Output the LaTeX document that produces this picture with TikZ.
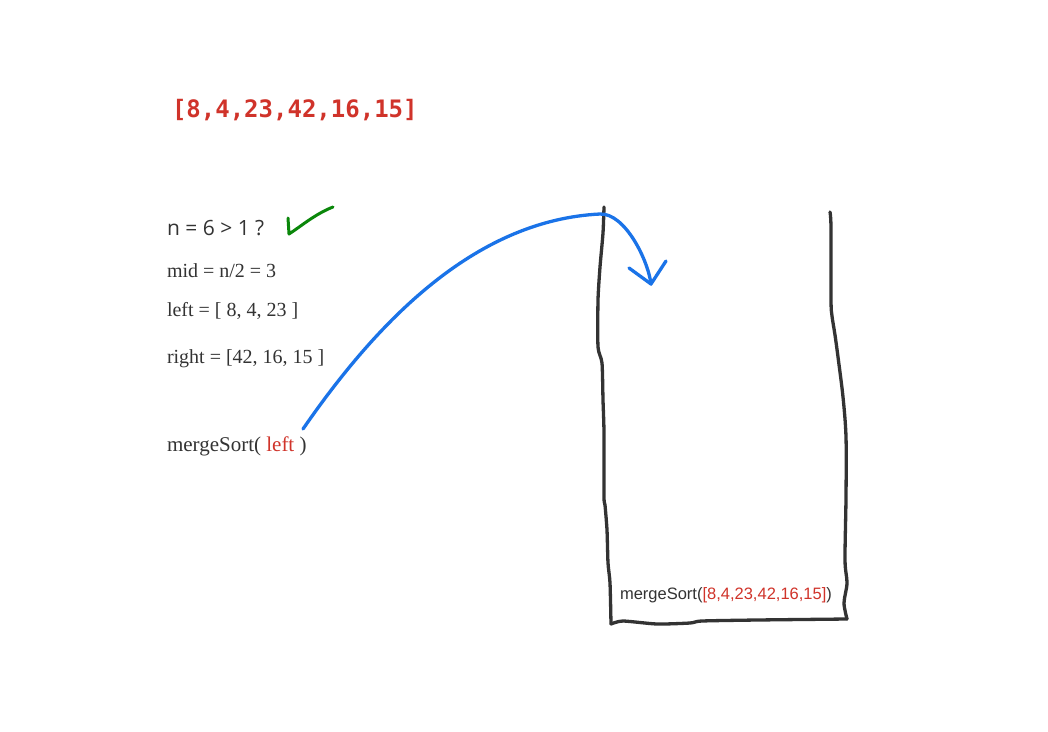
\documentclass[tikz,border=0pt]{standalone}
\usepackage{fontspec}
\setmainfont{Liberation Serif}
\newfontfamily\codefont{DejaVu Sans Mono}
\newfontfamily\osans{Open Sans}
\newfontfamily\lsans{Liberation Sans}
\definecolor{myred}{HTML}{D0332A}
\definecolor{myblue}{HTML}{1A73E8}
\definecolor{mygreen}{HTML}{0A870A}
\definecolor{ink}{HTML}{333333}
\begin{document}
\begin{tikzpicture}[x=1pt,y=-1pt,
  txt/.style={inner sep=0pt, outer sep=0pt, anchor=base west, text=ink},
  serif/.style={txt, font=\fontsize{20}{24}\selectfont},
  bluestroke/.style={draw=myblue, line width=3.3pt, line cap=round, line join=round},
  boxstroke/.style={draw=ink, line width=3.3pt, line cap=round, line join=round},
  greenstroke/.style={draw=mygreen, line width=3pt, line cap=round, line join=round}]
\useasboundingbox[fill=white] (0,0) rectangle (1048,731);

% title array
\node[txt, text=myred] (arr) at (172,117) {\codefont\bfseries\fontsize{24}{28}\selectfont [8,4,23,42,16,15]};

% condition line
\node[txt] (cond) at (167,235) {\osans\fontsize{21}{25}\selectfont n = 6 > 1 ?};
\coordinate (ck1) at (288,218);
\coordinate (ck2) at (289,234);
\coordinate (ck3) at (333,207);
\draw[greenstroke] (ck1) -- (ck2) .. controls (300,227) and (315,214) .. (ck3);

\node[serif] (mid) at (167,277) {mid = n/2 = 3};
\node[serif] (left) at (167,316) {left = [ 8, 4, 23 ]};
\node[serif] (right) at (167,363) {right = [42, 16, 15 ]};
\node[serif, font=\fontsize{21}{25}\selectfont] (call) at (167,451) {mergeSort( \textcolor{myred}{left} )};

% box (stack frame)
\draw[boxstroke] plot[smooth, tension=0.4] coordinates {(604,207) (603,233) (600,267) (598,300) (598,347) (602,363) (603,400) (604,433) (604,497) (605,505) (607,530) (608,563) (610,583) (611,624)};
\draw[boxstroke] plot[smooth, tension=0.4] coordinates {(611,624) (623,621) (657,624) (690,623) (702,621) (757,620) (847,619)};
\draw[boxstroke] plot[smooth, tension=0.5] coordinates {(830,212) (831,228) (831,300) (832,316) (835,335) (838,357) (843,397) (846,437) (846,497) (845,560) (847,583) (844,603) (847,619)};
\node[txt] (frame) at (620,599) {\lsans\fontsize{16.5}{20}\selectfont mergeSort(\textcolor{myred}{[8,4,23,42,16,15]})};

% blue call arrow
\coordinate (s) at (303,429);
\coordinate (pk) at (600,214);
\coordinate (t) at (651,284);
\coordinate (hl) at (629,268);
\coordinate (hr) at (666,261);
\draw[bluestroke] (s) .. controls (383,313) and (480,220) .. (pk) .. controls (625,213) and (648,260) .. (t);
\draw[bluestroke] (hl) -- (t) -- (hr);
\end{tikzpicture}
\end{document}
